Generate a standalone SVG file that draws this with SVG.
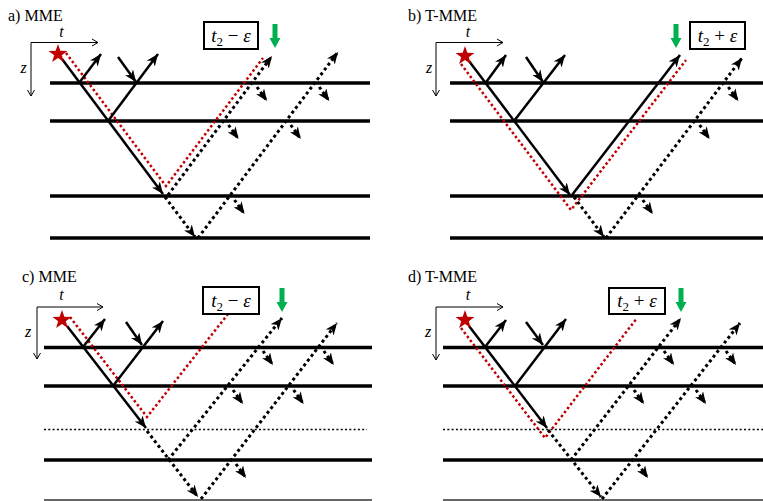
<svg xmlns="http://www.w3.org/2000/svg" xmlns:xlink="http://www.w3.org/1999/xlink" width="763" height="501" viewBox="0 0 763 501">
<style>
.title{font-family:"Liberation Serif",serif;font-size:16px;fill:#000}
.lab{font-family:"Liberation Serif",serif;font-size:16px;font-style:italic;fill:#000}
.boxt{font-family:"Liberation Serif",serif;font-size:19px;fill:#000}
.box{fill:#fff;stroke:#000;stroke-width:2}
.iface{stroke:#000;stroke-width:3.5;fill:none}
.ifd{stroke:#000;stroke-width:1.5;stroke-dasharray:2 2.3;fill:none}
.bot{stroke:#666;stroke-width:2;fill:none}
.axis{stroke:#000;stroke-width:1;fill:none}
.ray{stroke:#000;stroke-width:2.5;fill:none}
.dot{stroke:#000;stroke-width:3;stroke-dasharray:3 3;fill:none}
.red{stroke:#c00000;stroke-width:2.5;stroke-dasharray:2.5 2.5;fill:none}
.star{fill:#c00000}
.green{fill:#00b050}
</style>
<defs>
<marker id="ah" markerUnits="userSpaceOnUse" markerWidth="12" markerHeight="10" refX="12" refY="5" orient="auto" viewBox="0 0 12 10">
<path d="M0,0 L12,5 L0,10 L3.5,5 Z" fill="#000"/>
</marker>
<marker id="ax" markerUnits="userSpaceOnUse" markerWidth="9" markerHeight="9" refX="7" refY="4" orient="auto" viewBox="0 0 9 8">
<path d="M1,0.5 L7,4 L1,7.5" fill="none" stroke="#000" stroke-width="1"/>
</marker>
<path id="starShape" class="star" d="M0,-10 L2.35,-3.24 L9.51,-3.09 L3.8,1.24 L5.88,8.09 L0,4 L-5.88,8.09 L-3.8,1.24 L-9.51,-3.09 L-2.35,-3.24 Z"/>
<path id="greenArrow" class="green" d="M-2.5,0 H2.5 V14 H5.5 L0,24 L-5.5,14 H-2.5 Z"/>
</defs>

<!-- Panel a -->
<g id="panel-a">
<text class="title" x="8" y="21">a) MME</text>
<g id="a-axes">
<path class="axis" d="M31,42.5 H98" marker-end="url(#ax)"/>
<path class="axis" d="M31,42.5 V96" marker-end="url(#ax)"/>
<text class="lab" x="61.5" y="37" text-anchor="middle">t</text>
<text class="lab" x="23.5" y="73" text-anchor="middle">z</text>
</g>
<g id="a-interfaces">
<line class="iface" x1="50" y1="83" x2="370" y2="83"/>
<line class="iface" x1="50" y1="121" x2="370" y2="121"/>
<line class="iface" x1="50" y1="196" x2="370" y2="196"/>
<line class="iface" x1="50" y1="238" x2="370" y2="238"/>
</g>
<g id="a-connectors">
<path class="red" d="M66,53 L166,186 L263,58"/>
<path class="ray" d="M62,59 L163,194" marker-end="url(#ah)"/>
<path class="ray" d="M79,83 L101,54" marker-end="url(#ah)"/>
<path class="ray" d="M108,121 L158,54" marker-end="url(#ah)"/>
<path class="ray" d="M118,57 L136,82" marker-end="url(#ah)"/>
<path class="dot" d="M168,195 L272,56" marker-end="url(#ah)"/>
<path class="dot" d="M165,197 L195,237" marker-end="url(#ah)"/>
<path class="dot" d="M198,238 L338,52" marker-end="url(#ah)"/>
<path class="dot" d="M257,87 L267,101" marker-end="url(#ah)"/>
<path class="dot" d="M228.5,125 L238.5,139" marker-end="url(#ah)"/>
<path class="dot" d="M234.5,200 L244.5,214" marker-end="url(#ah)"/>
<path class="dot" d="M290.75,125 L300.75,139" marker-end="url(#ah)"/>
<path class="dot" d="M319.25,87 L329.25,101" marker-end="url(#ah)"/>
</g>
<use id="a-star" href="#starShape" x="58" y="54"/>
<use id="a-green" href="#greenArrow" x="275" y="24"/>
<g id="a-box">
<rect class="box" x="204" y="22" width="54" height="27"/>
<text class="boxt" x="231" y="41.5" text-anchor="middle"><tspan font-style="italic">t</tspan><tspan dy="4" font-size="13">2</tspan><tspan dy="-4"> − </tspan><tspan font-style="italic">ε</tspan></text>
</g>
</g>

<!-- Panel b -->
<g id="panel-b">
<text class="title" x="408" y="21">b) T-MME</text>
<g id="b-axes">
<path class="axis" d="M436,42.5 H503" marker-end="url(#ax)"/>
<path class="axis" d="M436,42.5 V96" marker-end="url(#ax)"/>
<text class="lab" x="468" y="37" text-anchor="middle">t</text>
<text class="lab" x="429" y="73" text-anchor="middle">z</text>
</g>
<g id="b-interfaces">
<line class="iface" x1="450" y1="83" x2="763" y2="83"/>
<line class="iface" x1="450" y1="121" x2="763" y2="121"/>
<line class="iface" x1="450" y1="196" x2="763" y2="196"/>
<line class="iface" x1="450" y1="238" x2="763" y2="238"/>
</g>
<g id="b-connectors">
<path class="red" d="M461,64 L571,210 L686,60"/>
<path class="ray" d="M469,61 L570,195" marker-end="url(#ah)"/>
<path class="ray" d="M485.5,83 L506,55" marker-end="url(#ah)"/>
<path class="ray" d="M514,121 L565,55" marker-end="url(#ah)"/>
<path class="ray" d="M526,57 L543,82" marker-end="url(#ah)"/>
<path class="ray" d="M572,195 L680,55" marker-end="url(#ah)"/>
<path class="dot" d="M574,197 L604,237" marker-end="url(#ah)"/>
<path class="dot" d="M606,238 L742,58" marker-end="url(#ah)"/>
<path class="dot" d="M642.8,200 L652.8,214" marker-end="url(#ah)"/>
<path class="dot" d="M699.6,125 L709.6,139" marker-end="url(#ah)"/>
<path class="dot" d="M728.3,87 L738.3,101" marker-end="url(#ah)"/>
</g>
<use id="b-star" href="#starShape" x="465" y="56"/>
<use id="b-green" href="#greenArrow" x="676" y="24"/>
<g id="b-box">
<rect class="box" x="690" y="22" width="55" height="27"/>
<text class="boxt" x="717.5" y="41.5" text-anchor="middle"><tspan font-style="italic">t</tspan><tspan dy="4" font-size="13">2</tspan><tspan dy="-4"> + </tspan><tspan font-style="italic">ε</tspan></text>
</g>
</g>

<!-- Panel c -->
<g id="panel-c">
<text class="title" x="22" y="282">c) MME</text>
<g id="c-axes">
<path class="axis" d="M37,307 H103" marker-end="url(#ax)"/>
<path class="axis" d="M37,307 V359" marker-end="url(#ax)"/>
<text class="lab" x="61.5" y="300" text-anchor="middle">t</text>
<text class="lab" x="28" y="337" text-anchor="middle">z</text>
</g>
<g id="c-interfaces">
<line class="iface" x1="44" y1="347.5" x2="372" y2="347.5"/>
<line class="iface" x1="44" y1="386" x2="372" y2="386"/>
<line class="ifd" x1="44" y1="429.5" x2="367" y2="429.5"/>
<line class="iface" x1="44" y1="460" x2="372" y2="460"/>
<line class="bot" x1="44" y1="500" x2="372" y2="500"/>
</g>
<g id="c-connectors">
<path class="red" d="M70,317 L147,417 L228,314"/>
<path class="ray" d="M67,326 L146,428" marker-end="url(#ah)"/>
<path class="ray" d="M83,347 L105,319" marker-end="url(#ah)"/>
<path class="ray" d="M113,386 L163,321" marker-end="url(#ah)"/>
<path class="ray" d="M126,322 L142,345" marker-end="url(#ah)"/>
<path class="dot" d="M147,431 L198,497" marker-end="url(#ah)"/>
<path class="dot" d="M168,460 L282,318" marker-end="url(#ah)"/>
<path class="dot" d="M201,499 L337,323" marker-end="url(#ah)"/>
<path class="dot" d="M233,390 L243,404" marker-end="url(#ah)"/>
<path class="dot" d="M263,351 L273,365" marker-end="url(#ah)"/>
<path class="dot" d="M236,464 L246,478" marker-end="url(#ah)"/>
<path class="dot" d="M293.6,390 L303.6,404" marker-end="url(#ah)"/>
<path class="dot" d="M323.8,351 L333.8,365" marker-end="url(#ah)"/>
</g>
<use id="c-star" href="#starShape" x="62" y="320"/>
<use id="c-green" href="#greenArrow" x="282" y="288"/>
<g id="c-box">
<rect class="box" x="203" y="287" width="56" height="27"/>
<text class="boxt" x="231" y="306.5" text-anchor="middle"><tspan font-style="italic">t</tspan><tspan dy="4" font-size="13">2</tspan><tspan dy="-4"> − </tspan><tspan font-style="italic">ε</tspan></text>
</g>
</g>

<!-- Panel d -->
<g id="panel-d">
<text class="title" x="408" y="282">d) T-MME</text>
<g id="d-axes">
<path class="axis" d="M436,307 H503" marker-end="url(#ax)"/>
<path class="axis" d="M436,307 V360" marker-end="url(#ax)"/>
<text class="lab" x="468" y="300" text-anchor="middle">t</text>
<text class="lab" x="428" y="337" text-anchor="middle">z</text>
</g>
<g id="d-interfaces">
<line class="iface" x1="443" y1="347.5" x2="763" y2="347.5"/>
<line class="iface" x1="443" y1="386" x2="763" y2="386"/>
<line class="ifd" x1="443" y1="429.5" x2="763" y2="429.5"/>
<line class="iface" x1="443" y1="460" x2="763" y2="460"/>
<line class="bot" x1="443" y1="500" x2="763" y2="500"/>
</g>
<g id="d-connectors">
<path class="red" d="M461,328 L545,438 L637,318"/>
<path class="ray" d="M469,326 L547,428" marker-end="url(#ah)"/>
<path class="ray" d="M485,347 L506,320" marker-end="url(#ah)"/>
<path class="ray" d="M515,386 L566,319" marker-end="url(#ah)"/>
<path class="ray" d="M526,322 L543,345" marker-end="url(#ah)"/>
<path class="dot" d="M548,430 L601,497" marker-end="url(#ah)"/>
<path class="dot" d="M571,460 L681,318" marker-end="url(#ah)"/>
<path class="dot" d="M602,499 L740,323" marker-end="url(#ah)"/>
<path class="dot" d="M634,390 L644,404" marker-end="url(#ah)"/>
<path class="dot" d="M664,351 L674,365" marker-end="url(#ah)"/>
<path class="dot" d="M638,464 L648,478" marker-end="url(#ah)"/>
<path class="dot" d="M696,390 L706,404" marker-end="url(#ah)"/>
<path class="dot" d="M726,351 L736,365" marker-end="url(#ah)"/>
</g>
<use id="d-star" href="#starShape" x="465" y="320"/>
<use id="d-green" href="#greenArrow" x="681" y="288"/>
<g id="d-box">
<rect class="box" x="609" y="288" width="56" height="26"/>
<text class="boxt" x="637" y="306.5" text-anchor="middle"><tspan font-style="italic">t</tspan><tspan dy="4" font-size="13">2</tspan><tspan dy="-4"> + </tspan><tspan font-style="italic">ε</tspan></text>
</g>
</g>
</svg>
